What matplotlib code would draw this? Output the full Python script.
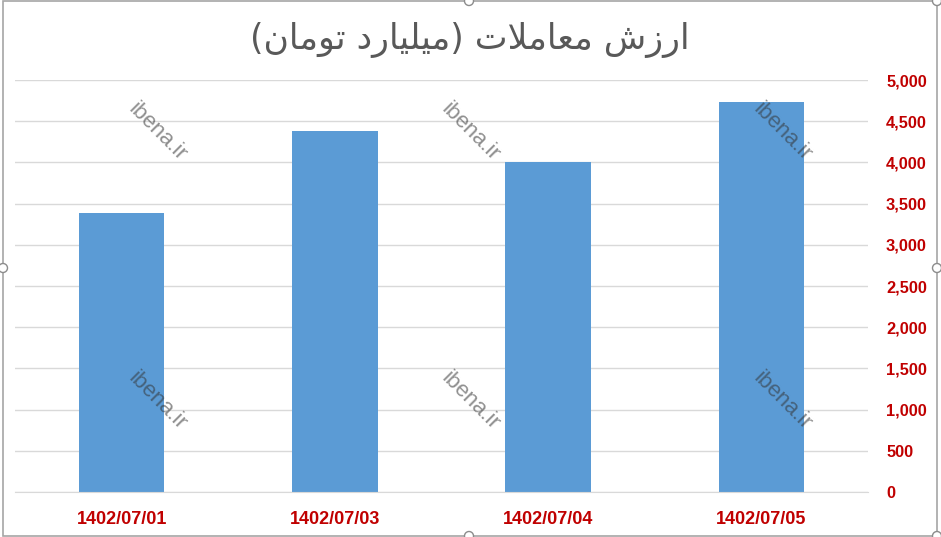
import matplotlib
matplotlib.use('Agg')
import matplotlib.pyplot as plt
import matplotlib.patches as patches

# Data
dates = ['1402/07/01', '1402/07/03', '1402/07/04', '1402/07/05']
values = [3390, 4380, 4000, 4730]
y_ticks = [0, 500, 1000, 1500, 2000, 2500, 3000, 3500, 4000, 4500, 5000]

# Title "ارزش معاملات (میلیارد تومان)" written with Arabic presentation forms
# (matplotlib does no shaping), each word in logical order
w_arzesh = '\uFE8D\uFEAD\uFEAF\uFEB5'
w_moamelat = '\uFEE3\uFECC\uFE8E\uFEE3\uFEFC\uFE95'
w_milyard = '\uFEE3\uFEF4\uFEE0\uFEF4\uFE8E\uFEAD\uFEA9'
w_toman = '\uFE97\uFEEE\uFEE3\uFE8E\uFEE5'
title_text = '(' + w_toman[::-1] + ' ' + w_milyard[::-1] + ') ' + w_moamelat[::-1] + ' ' + w_arzesh[::-1]

bar_color = '#5B9BD5'
label_red = '#C00000'

fig = plt.figure(figsize=(9.41, 5.37), dpi=100)
ax = fig.add_axes([15 / 941, 1 - 492 / 537, 853 / 941, 412 / 537])

x = list(range(len(dates)))
ax.bar(x, values, width=0.4, color=bar_color, zorder=2)

ax.set_xlim(-0.5, len(dates) - 0.5)
ax.set_ylim(0, 5000)
ax.set_yticks(y_ticks)
ax.set_yticklabels([f'{v:,}' for v in y_ticks])
ax.set_xticks(x)
ax.set_xticklabels(dates)
ax.yaxis.tick_right()
ax.tick_params(axis='y', length=0, pad=13, labelcolor=label_red, labelsize=11.8)
ax.tick_params(axis='x', length=0, pad=14, labelcolor=label_red, labelsize=13)
for lbl in ax.get_xticklabels() + ax.get_yticklabels():
    lbl.set_fontfamily('Liberation Sans')
    lbl.set_fontweight('bold')

ax.grid(axis='y', color='#D9D9D9', linewidth=1, zorder=0)
ax.set_axisbelow(True)
for s in ['top', 'right', 'left']:
    ax.spines[s].set_visible(False)
ax.spines['bottom'].set_color('#D9D9D9')

fig.text(470 / 941, 1 - 40 / 537, title_text, ha='center', va='center',
         fontsize=25, color='#595959', family=['DejaVu Sans'])

# watermarks
for wx in [157, 470, 782]:
    for wy in [132, 401]:
        fig.text(wx / 941, 1 - wy / 537, 'ibena.ir', ha='center', va='center',
                 rotation=-45, fontsize=16, color='#333333', alpha=0.55,
                 family='Liberation Sans', zorder=5)

# chart frame with selection handles
frame = patches.Rectangle((3 / 941, 1 / 537), 934 / 941, 535 / 537, transform=fig.transFigure,
                          fill=False, edgecolor='#A6A6A6', linewidth=1.2)
fig.patches.append(frame)
handles = [(469, 1), (937, 1), (3, 268), (937, 268), (469, 536), (937, 536)]
for hx, hy in handles:
    c = patches.Circle((hx, 537 - hy), 4.5, transform=None, facecolor='white',
                       edgecolor='#8C8C8C', linewidth=1, zorder=10)
    fig.patches.append(c)

fig.savefig('out.png', dpi=100)
